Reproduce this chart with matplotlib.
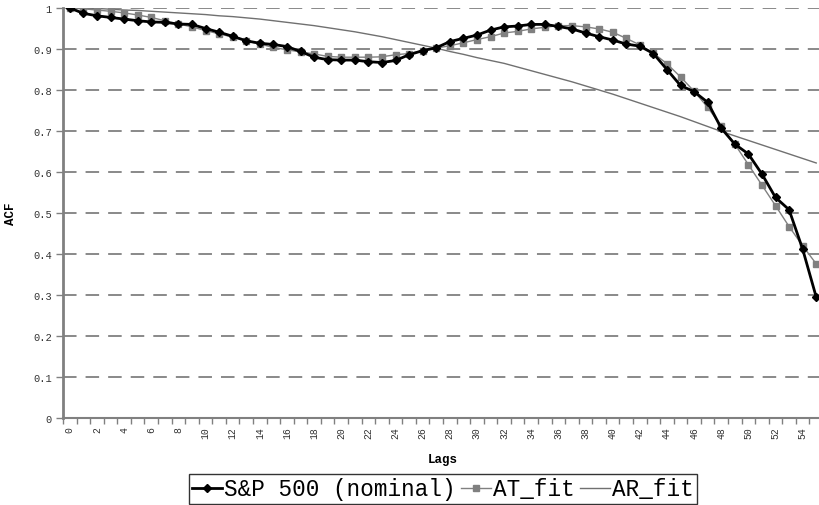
import numpy as np
import matplotlib
matplotlib.use("Agg")
import matplotlib.pyplot as plt
from matplotlib.ticker import FixedLocator, NullFormatter

# 글꼴: Courier 계열 (Liberation Mono)
plt.rcParams["font.family"] = ["Liberation Mono", "DejaVu Sans Mono"]

# ----------------------------------------------------------------------
# 데이터
# ----------------------------------------------------------------------
lags = list(range(56))

sp500 = [
    1.000, 0.987, 0.981, 0.977, 0.973, 0.969, 0.966, 0.965, 0.961, 0.960,
    0.950, 0.941, 0.931, 0.920, 0.914, 0.911, 0.906, 0.894, 0.880, 0.874,
    0.873, 0.873, 0.869, 0.867, 0.872, 0.886, 0.896, 0.903, 0.918, 0.926,
    0.934, 0.946, 0.954, 0.956, 0.960, 0.960, 0.955, 0.949, 0.939, 0.930,
    0.922, 0.912, 0.907, 0.889, 0.850, 0.811, 0.796, 0.770, 0.707, 0.668,
    0.644, 0.595, 0.538, 0.508, 0.412, 0.295,
]

at_fit = [
    1.000, 0.998, 0.995, 0.992, 0.988, 0.983, 0.977, 0.969, 0.961, 0.954,
    0.945, 0.937, 0.929, 0.920, 0.912, 0.904, 0.898, 0.893, 0.888, 0.882,
    0.880, 0.880, 0.880, 0.881, 0.886, 0.889, 0.896, 0.902, 0.908, 0.915,
    0.923, 0.930, 0.939, 0.943, 0.949, 0.953, 0.957, 0.957, 0.954, 0.949,
    0.941, 0.926, 0.910, 0.890, 0.864, 0.832, 0.797, 0.758, 0.712, 0.668,
    0.618, 0.568, 0.518, 0.467, 0.420, 0.376,
]

ar_fit = [
    1.000, 1.000, 0.999, 0.997, 0.995, 0.994, 0.992, 0.990, 0.988, 0.986,
    0.984, 0.981, 0.979, 0.976, 0.973, 0.969, 0.965, 0.961, 0.957, 0.952,
    0.947, 0.942, 0.936, 0.930, 0.923, 0.916, 0.909, 0.902, 0.894, 0.887,
    0.879, 0.872, 0.865, 0.856, 0.847, 0.838, 0.829, 0.820, 0.810, 0.800,
    0.790, 0.779, 0.768, 0.757, 0.746, 0.735, 0.723, 0.711, 0.699, 0.688,
    0.677, 0.666, 0.655, 0.644, 0.633, 0.622,
]

y_ticks = [0, 0.1, 0.2, 0.3, 0.4, 0.5, 0.6, 0.7, 0.8, 0.9, 1]
y_tick_labels = ["0", "0.1", "0.2", "0.3", "0.4", "0.5", "0.6", "0.7",
                 "0.8", "0.9", "1"]

GRAY = "#808080"

# ----------------------------------------------------------------------
# 그림
# ----------------------------------------------------------------------
W, H = 819, 506
fig = plt.figure(figsize=(W / 100, H / 100), dpi=100)
ax = fig.add_axes([63 / W, 1 - 419 / H, 760 / W, 410 / H])

# 가로 점선 격자
for yv in y_ticks[1:]:
    ax.axhline(yv, color=GRAY, linewidth=1.3,
               linestyle=(0, (7.5, 5.0)), zorder=1)

ax.plot(lags, ar_fit, color="#707070", linewidth=1.0, zorder=2,
        label="AR_fit")
ax.plot(lags, at_fit, color=GRAY, linewidth=1.0, marker="s",
        markersize=4.2, markerfacecolor=GRAY, markeredgecolor=GRAY,
        zorder=3, label="AT_fit")
ax.plot(lags, sp500, color="black", linewidth=2.0, marker="D",
        markersize=4.0, markerfacecolor="black", markeredgecolor="black",
        zorder=4, label="S&P 500 (nominal)")

ax.set_xlim(-0.5, 55.5)
ax.set_ylim(0, 1)

# x 축: 눈금은 범주 경계, 라벨은 2 간격
ax.xaxis.set_major_locator(FixedLocator(lags[::2]))
ax.set_xticklabels([str(k) for k in lags[::2]], rotation=90,
                   fontsize=7, color="#333333")
ax.xaxis.set_minor_locator(FixedLocator(np.arange(-0.5, 56, 1.0)))
ax.xaxis.set_minor_formatter(NullFormatter())
ax.tick_params(axis="x", which="major", length=0, pad=6)
ax.tick_params(axis="x", which="minor", length=4, width=1, color=GRAY)

ax.set_yticks(y_ticks)
ax.set_yticklabels(y_tick_labels, fontsize=7.5, color="#333333")
ax.tick_params(axis="y", length=5, width=1, color=GRAY, pad=3)

for side in ("top", "right"):
    ax.spines[side].set_visible(False)
ax.spines["left"].set_color(GRAY)
ax.spines["left"].set_linewidth(2)
ax.spines["bottom"].set_color(GRAY)
ax.spines["bottom"].set_linewidth(1.5)

ax.set_xlabel("Lags", fontsize=9, fontweight="bold")
ax.xaxis.set_label_coords((443 - 63) / 760, -(454 - 419) / 410)
ax.set_ylabel("ACF", fontsize=9, fontweight="bold")
ax.yaxis.set_label_coords(-(63 - 17) / 760, 0.5)

handles, labels = ax.get_legend_handles_labels()
order = [2, 1, 0]
leg = fig.legend([handles[i] for i in order], [labels[i] for i in order],
                 loc="center", bbox_to_anchor=(443 / W, 1 - 490 / H),
                 ncol=3, fontsize=16.3, frameon=True, fancybox=False,
                 edgecolor="black", handlelength=1.3, handletextpad=0.1,
                 columnspacing=0.25, borderpad=0.15, borderaxespad=0)
leg.get_frame().set_linewidth(1.0)

fig.savefig("out.png", dpi=100)
